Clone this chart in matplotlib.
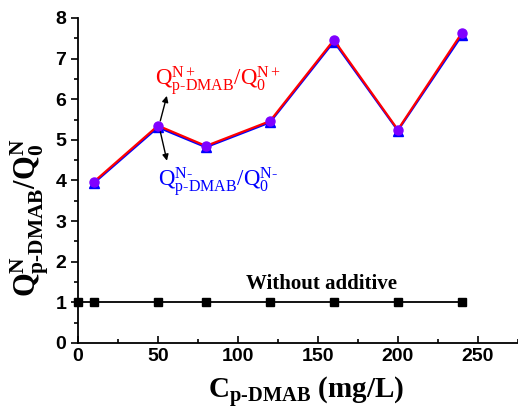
import matplotlib.pyplot as plt
from matplotlib.ticker import MultipleLocator

# Ratio of adsorbed charge with / without p-DMAB vs concentration
conc = [10, 50, 80, 120, 160, 200, 240]
ratio_pos = [3.97, 5.35, 4.85, 5.46, 7.46, 5.25, 7.63]
ratio_neg = [3.94, 5.31, 4.82, 5.43, 7.42, 5.23, 7.57]

blank_conc = [0, 10, 50, 80, 120, 160, 200, 240]
blank_ratio = [1, 1, 1, 1, 1, 1, 1, 1]

plt.rcParams['mathtext.fontset'] = 'custom'
plt.rcParams['mathtext.rm'] = 'Liberation Serif'
plt.rcParams['mathtext.bf'] = 'Liberation Serif:bold'
plt.rcParams['mathtext.it'] = 'Liberation Serif:italic'

HY = '\u2010'  # real hyphen, so mathtext does not turn it into a minus

fig = plt.figure(figsize=(5.18, 4.09), dpi=100)
ax = fig.add_axes([0.1506, 0.1614, 0.849, 0.7946])

ax.plot(conc, ratio_neg, '-^', color='#0000ff', lw=1.6, ms=6.5, zorder=3)
ax.plot(conc, ratio_pos, '-', color='#ff0000', lw=1.6, zorder=3)
ax.plot(conc, ratio_pos, 'o', color='#7f00ff', ms=6.5, zorder=4)
ax.plot(blank_conc, blank_ratio, '-s', color='black', lw=1.3, ms=6,
        clip_on=False, zorder=5)

ax.text(152, 1.2, 'Without additive', ha='center', va='bottom',
        fontsize=15, fontweight='bold', family='Liberation Serif')

ax.text(48, 6.45, r'$\mathrm{Q^{N+}_{p' + HY + r'DMAB}/Q^{N+}_{0}}$',
        color='#ff0000', fontsize=16.5, ha='left', va='center')
ax.text(50, 3.95, r'$\mathrm{Q^{N' + HY + r'}_{p' + HY + r'DMAB}/Q^{N' + HY + r'}_{0}}$',
        color='#0000ff', fontsize=16.5, ha='left', va='center')

arrow = dict(arrowstyle='-|>', color='black', lw=1.0, mutation_scale=9)
ax.annotate('', xy=(56, 6.15), xytext=(51, 5.4), arrowprops=arrow)
ax.annotate('', xy=(56, 4.42), xytext=(51, 5.28), arrowprops=arrow)

ax.set_xlim(0, 275)
ax.set_ylim(0, 8)
ax.xaxis.set_major_locator(MultipleLocator(50))
ax.xaxis.set_minor_locator(MultipleLocator(25))
ax.yaxis.set_major_locator(MultipleLocator(1))
ax.yaxis.set_minor_locator(MultipleLocator(0.5))
ax.tick_params(axis='x', which='both', direction='in', width=1.2)
ax.tick_params(axis='x', which='major', length=5)
ax.tick_params(axis='x', which='minor', length=3)
ax.tick_params(axis='y', which='both', direction='out', width=1.2)
ax.tick_params(axis='y', which='major', length=5)
ax.tick_params(axis='y', which='minor', length=3)

for lbl in ax.get_xticklabels() + ax.get_yticklabels():
    lbl.set_fontfamily('Liberation Sans')
    lbl.set_fontweight('bold')
    lbl.set_fontsize(14)

ax.spines['top'].set_visible(False)
ax.spines['right'].set_visible(False)
ax.spines['left'].set_linewidth(1.3)
ax.spines['bottom'].set_linewidth(1.3)

ax.set_xlabel(r'$\mathbf{C_{p' + HY + r'DMAB}}$ (mg/L)', fontsize=21,
              fontweight='bold', family='Liberation Serif')
ax.set_ylabel(r'$\mathbf{Q^{N}_{p' + HY + r'DMAB}/Q^{N}_{0}}$', fontsize=22)
ax.xaxis.set_label_coords(0.518, -0.098)
ax.yaxis.set_label_coords(-0.062, 0.385)

fig.savefig('out.png', dpi=100, facecolor='white')
